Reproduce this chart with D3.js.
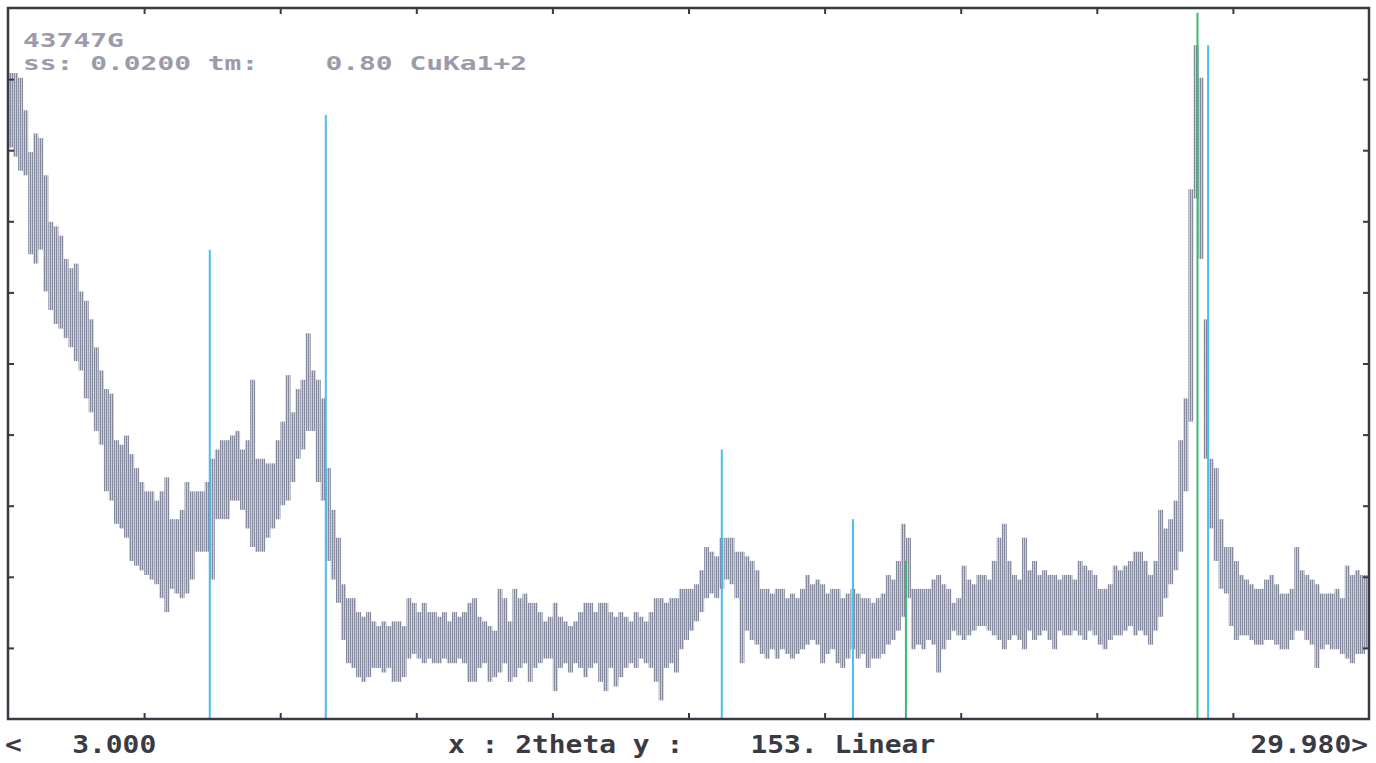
<!DOCTYPE html>
<html>
<head>
<meta charset="utf-8">
<script src="https://cdn.jsdelivr.net/npm/d3@7"></script>
<style>
  html, body { margin: 0; padding: 0; background: #ffffff; }
  svg { display: block; }
</style>
</head>
<body>
<svg id="chart" width="1376" height="763"></svg>
<script>
// Powder diffraction scan, 2theta 3.000 - 29.980, counts binned every 0.1 degree.
const scanStart = 3.0;
const scanEnd = 29.98;
const binWidth = 0.1;
const yMax = 153;

// Upper and lower count envelope of each 0.1 degree bin (starting at 3.0).
const countsHigh = [
  139,139,138,131,122,126,125,117,107,106,
  104,99,97,98,92,90,86,80,75,71,
  70,60,59,61,57,54,51,49,49,47,
  49,52,43,43,45,51,49,49,49,51,
  56,58,60,60,61,62,58,60,73,56,
  56,55,55,60,64,74,66,71,73,83,
  75,73,69,54,45,39,29,26,26,23,
  22,23,21,20,21,20,21,21,20,26,
  25,23,25,23,23,22,23,21,23,22,
  23,25,26,22,21,20,19,28,26,21,
  28,26,27,25,25,23,21,22,25,22,
  21,20,21,23,25,25,23,25,25,23,
  22,23,22,21,23,22,21,23,26,26,
  25,26,26,28,28,28,29,32,37,36,
  35,39,39,39,36,36,35,34,32,28,
  28,27,28,28,26,27,26,28,31,29,
  30,29,27,28,28,26,27,28,27,26,
  26,25,26,27,31,30,34,42,39,28,
  28,28,28,30,31,29,28,25,26,33,
  30,29,31,31,30,34,39,42,34,31,
  30,39,32,34,31,32,31,31,30,31,
  31,30,34,33,32,31,28,28,29,33,
  32,33,34,36,36,34,31,34,45,41,
  43,47,60,69,114,145,138,86,56,54,
  43,37,37,34,31,30,29,28,28,30,
  31,29,27,27,28,37,32,31,30,29,
  27,27,27,28,26,33,31,32,31,31
];
const countsLow = [
  123,121,118,117,100,98,101,92,88,85,
  84,82,80,77,75,69,66,62,59,49,
  47,42,41,39,34,33,32,31,30,29,
  26,23,28,27,26,27,30,36,36,36,
  30,43,43,43,47,47,45,41,37,36,
  36,39,41,43,46,47,51,56,58,62,
  62,51,47,34,30,25,17,12,11,9,
  8,9,11,11,10,11,8,8,9,13,
  14,13,12,13,12,12,13,12,12,13,
  12,8,8,11,12,8,9,10,12,8,
  9,11,12,8,11,12,13,13,6,11,
  12,10,12,11,9,11,12,8,6,11,
  7,9,11,12,11,13,12,11,8,4,
  11,12,10,15,17,19,21,23,26,27,
  26,28,30,29,26,12,19,17,16,14,
  13,15,13,15,14,13,14,15,16,17,
  16,12,14,15,12,11,13,15,13,14,
  11,13,13,14,16,17,19,22,26,15,
  16,15,17,16,10,15,17,19,18,17,
  18,19,20,20,19,18,17,15,17,18,
  17,15,19,17,18,19,17,15,19,18,
  18,19,18,17,19,18,16,15,17,18,
  18,19,20,18,19,18,16,19,22,26,
  29,32,36,49,64,112,99,56,41,34,
  28,27,20,17,18,18,17,16,16,17,
  17,16,15,15,17,19,19,17,16,11,
  15,16,15,15,14,13,12,14,14,15
];

// Reference line patterns: positions (2theta) and stick heights (counts scale).
const phaseAPositions = [7.00, 9.30, 17.15, 19.75, 26.79];
const phaseAHeights = [101, 130, 58, 43, 145];
const phaseBPositions = [20.80, 26.58];
const phaseBHeights = [34, 152];

// Text lines
const headerLines = ["43747G", "ss: 0.0200 tm:    0.80 CuKa1+2"];
const footerLeft = "<   3.000";
const footerCenter = "x : 2theta y :    153. Linear";
const footerRight = "29.980>";

const tickDivisions = 10;

const svg = d3.select("#chart");
const plot = { left: 8, right: 1369, top: 8, bottom: 719 };

const x = d3.scaleLinear().domain([scanStart, scanEnd]).range([plot.left, plot.right]);
const y = d3.scaleLinear().domain([0, yMax]).range([plot.bottom, plot.top]);

// Stripe texture used for the count bands
const defs = svg.append("defs");
const pat = defs.append("pattern")
  .attr("id", "trace")
  .attr("width", 2).attr("height", 3)
  .attr("patternUnits", "userSpaceOnUse");
pat.append("rect").attr("width", 2).attr("height", 3).attr("fill", "#d2d0d9");
pat.append("rect").attr("x", 0).attr("width", 1).attr("height", 3).attr("fill", "#858a9e");
pat.append("rect").attr("x", 1).attr("y", 1).attr("width", 1).attr("height", 1).attr("fill", "#e0b8c2");

// Count bands
const bins = countsHigh.map((hi, i) => {
  const t0 = scanStart + i * binWidth;
  const t1 = Math.min(scanStart + (i + 1) * binWidth, scanEnd);
  return { t0, t1, hi, lo: countsLow[i] };
});

svg.append("g").selectAll("rect")
  .data(bins)
  .join("rect")
  .attr("x", d => x(d.t0))
  .attr("width", d => Math.max(0, x(d.t1) - x(d.t0)))
  .attr("y", d => y(d.hi))
  .attr("height", d => y(d.lo) - y(d.hi))
  .attr("fill", "url(#trace)");

// Reference sticks
function sticks(positions, heights, color) {
  svg.append("g").selectAll("line")
    .data(positions.map((p, i) => ({ p, h: heights[i] })))
    .join("line")
    .attr("x1", d => x(d.p)).attr("x2", d => x(d.p))
    .attr("y1", y(0)).attr("y2", d => y(d.h))
    .attr("stroke", color)
    .attr("stroke-width", 2);
}
sticks(phaseAPositions, phaseAHeights, "#4cbdf0");
sticks(phaseBPositions, phaseBHeights, "#3cb878");

// Frame and ticks
const axisColor = "#3a3a44";
const xTicks = d3.range(1, tickDivisions).map(k => scanStart + k * (scanEnd - scanStart) / tickDivisions);
const yTicks = d3.range(1, tickDivisions).map(k => k * yMax / tickDivisions);

function styleAxis(g) {
  g.select(".domain").remove();
  g.selectAll(".tick line").attr("stroke", axisColor).attr("stroke-width", 2);
  g.selectAll(".tick text").remove();
}

svg.append("g").attr("transform", `translate(0,${plot.bottom})`)
  .call(d3.axisBottom(x).tickValues(xTicks).tickSize(-6).tickFormat(""))
  .call(styleAxis);
svg.append("g").attr("transform", `translate(0,${plot.top})`)
  .call(d3.axisTop(x).tickValues(xTicks).tickSize(-6).tickFormat(""))
  .call(styleAxis);
svg.append("g").attr("transform", `translate(${plot.left},0)`)
  .call(d3.axisLeft(y).tickValues(yTicks).tickSize(-6).tickFormat(""))
  .call(styleAxis);
svg.append("g").attr("transform", `translate(${plot.right},0)`)
  .call(d3.axisRight(y).tickValues(yTicks).tickSize(-6).tickFormat(""))
  .call(styleAxis);

svg.append("rect")
  .attr("x", plot.left).attr("y", plot.top)
  .attr("width", plot.right - plot.left)
  .attr("height", plot.bottom - plot.top)
  .attr("fill", "none")
  .attr("stroke", axisColor)
  .attr("stroke-width", 2.5);

// Text in a stretched monospace face
const charW = 16.8;
function mono(str, xPos, yPos, color, size, anchorEnd) {
  const w = str.length * charW;
  svg.append("text")
    .attr("x", anchorEnd ? xPos - w : xPos)
    .attr("y", yPos)
    .attr("font-family", "'DejaVu Sans Mono', 'Liberation Mono', monospace")
    .attr("font-weight", "bold")
    .attr("font-size", size)
    .attr("textLength", w)
    .attr("lengthAdjust", "spacingAndGlyphs")
    .attr("fill", color)
    .attr("xml:space", "preserve")
    .style("white-space", "pre")
    .text(str);
}

mono(headerLines[0], 23, 47, "#9c9aab", 19.5);
mono(headerLines[1], 23, 70, "#9c9aab", 19.5);
mono(footerLeft, 5, 753, "#3a3a44", 24);
mono(footerCenter, 448, 753, "#3a3a44", 24);
mono(footerRight, 1368, 753, "#3a3a44", 24, true);
</script>
</body>
</html>
